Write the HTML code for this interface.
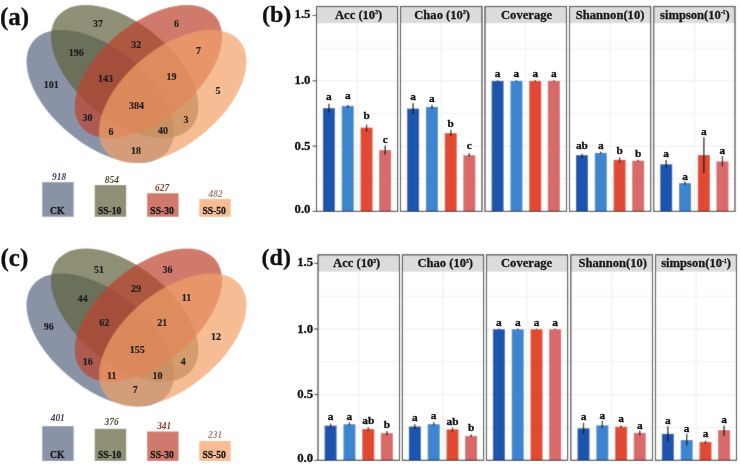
<!DOCTYPE html>
<html><head><meta charset="utf-8"><style>
html,body{margin:0;padding:0;background:#fff;width:740px;height:464px;overflow:hidden}
svg{display:block;will-change:transform}
text{font-family:"Liberation Serif",serif;font-weight:bold;stroke-width:0.3px;paint-order:stroke}
.vl{font-size:10px;text-anchor:middle;fill:#1e1e1e;stroke:#1e1e1e;stroke-width:0.15px}
.ln{font-size:9.4px;font-style:italic;text-anchor:middle;font-weight:bold}
.lt{font-size:9.6px;text-anchor:middle;fill:#1a1a1a;stroke:#1a1a1a}
.yl{font-size:12.8px;text-anchor:end;fill:#111;stroke:#111}
.st{font-size:12.6px;text-anchor:middle;fill:#1a1a1a;stroke:#1a1a1a}
.sup{font-size:5.5px}
.let{font-size:11.3px;text-anchor:middle;fill:#111;stroke:#111}
.pl{font-size:25px;fill:#111;stroke:#111}
</style></head><body>
<svg width="740" height="464" viewBox="0 0 740 464"><defs><filter id="bl" x="0" y="0" width="740" height="464" filterUnits="userSpaceOnUse"><feConvolveMatrix order="3" kernelMatrix="1 2 1 2 20 2 1 2 1" divisor="32" edgeMode="duplicate" preserveAlpha="true"/></filter></defs><g filter="url(#bl)"><rect width="740" height="464" fill="#fff"/>
<ellipse cx="100.21" cy="96.46" rx="86.92" ry="48.09" transform="rotate(39.44 100.21 96.46)" fill="#586580" fill-opacity="0.7"/>
<ellipse cx="124.61" cy="71.58" rx="86.92" ry="48.09" transform="rotate(39.44 124.61 71.58)" fill="#5e5f3a" fill-opacity="0.7"/>
<ellipse cx="148.39" cy="71.58" rx="86.92" ry="48.09" transform="rotate(-39.44 148.39 71.58)" fill="#bc412e" fill-opacity="0.7"/>
<ellipse cx="172.79" cy="96.46" rx="86.92" ry="48.09" transform="rotate(-39.44 172.79 96.46)" fill="#f2a168" fill-opacity="0.7"/>
<rect x="42.2" y="182.1" width="31.5" height="34.70000000000002" fill="#8a93a6"/>
<rect x="94.7" y="185.0" width="31.5" height="31.80000000000001" fill="#8e8f75"/>
<rect x="147.1" y="193.2" width="31.5" height="23.600000000000023" fill="#d07a6d"/>
<rect x="199.2" y="198.9" width="31.5" height="17.900000000000006" fill="#f6bd95"/>
<ellipse cx="100.21" cy="339.96" rx="86.92" ry="48.09" transform="rotate(39.44 100.21 339.96)" fill="#586580" fill-opacity="0.7"/>
<ellipse cx="124.61" cy="315.08" rx="86.92" ry="48.09" transform="rotate(39.44 124.61 315.08)" fill="#5e5f3a" fill-opacity="0.7"/>
<ellipse cx="148.39" cy="315.08" rx="86.92" ry="48.09" transform="rotate(-39.44 148.39 315.08)" fill="#bc412e" fill-opacity="0.7"/>
<ellipse cx="172.79" cy="339.96" rx="86.92" ry="48.09" transform="rotate(-39.44 172.79 339.96)" fill="#f2a168" fill-opacity="0.7"/>
<rect x="42.2" y="426.1" width="31.5" height="34.900000000000006" fill="#8a93a6"/>
<rect x="94.7" y="428.8" width="31.5" height="32.19999999999999" fill="#8e8f75"/>
<rect x="147.1" y="431.5" width="31.5" height="29.5" fill="#d07a6d"/>
<rect x="199.2" y="441.0" width="31.5" height="20.0" fill="#f6bd95"/>
<line x1="312.5" y1="15.500000000000028" x2="316.5" y2="15.500000000000028" stroke="#333" stroke-width="1"/>
<line x1="312.5" y1="80.80000000000001" x2="316.5" y2="80.80000000000001" stroke="#333" stroke-width="1"/>
<line x1="312.5" y1="146.10000000000002" x2="316.5" y2="146.10000000000002" stroke="#333" stroke-width="1"/>
<line x1="312.5" y1="211.4" x2="316.5" y2="211.4" stroke="#333" stroke-width="1"/>
<rect x="316.5" y="23.2" width="81.10000000000002" height="188.20000000000002" fill="#fff"/>
<line x1="316.5" y1="178.75" x2="397.6" y2="178.75" stroke="#f1f1f1" stroke-width="1"/>
<line x1="316.5" y1="113.45000000000002" x2="397.6" y2="113.45000000000002" stroke="#f1f1f1" stroke-width="1"/>
<line x1="316.5" y1="48.150000000000006" x2="397.6" y2="48.150000000000006" stroke="#f1f1f1" stroke-width="1"/>
<line x1="316.5" y1="146.10000000000002" x2="397.6" y2="146.10000000000002" stroke="#eeeeee" stroke-width="1"/>
<line x1="316.5" y1="80.80000000000001" x2="397.6" y2="80.80000000000001" stroke="#eeeeee" stroke-width="1"/>
<line x1="357.05" y1="23.2" x2="357.05" y2="211.4" stroke="#eeeeee" stroke-width="1"/>
<rect x="322.90" y="108.1" width="12.0" height="103.30" fill="#1a55ae"/>
<line x1="328.90" y1="103.8" x2="328.90" y2="112.4" stroke="#111" stroke-width="1.3"/>
<rect x="341.75" y="105.9" width="12.0" height="105.50" fill="#3d86cf"/>
<line x1="347.75" y1="105.0" x2="347.75" y2="108.0" stroke="#111" stroke-width="1.3"/>
<rect x="360.55" y="127.6" width="12.0" height="83.80" fill="#e04a33"/>
<line x1="366.55" y1="124.5" x2="366.55" y2="131.4" stroke="#111" stroke-width="1.3"/>
<rect x="379.15" y="150.0" width="12.0" height="61.40" fill="#d86a6a"/>
<line x1="385.15" y1="145.5" x2="385.15" y2="154.7" stroke="#111" stroke-width="1.3"/>
<rect x="316.5" y="6.5" width="81.10000000000002" height="16.7" fill="#dcdcdc"/>
<rect x="316.5" y="6.5" width="81.10000000000002" height="204.9" fill="none" stroke="#262626" stroke-width="1.1"/>
<rect x="400.5" y="23.2" width="81.5" height="188.20000000000002" fill="#fff"/>
<line x1="400.5" y1="178.75" x2="482.0" y2="178.75" stroke="#f1f1f1" stroke-width="1"/>
<line x1="400.5" y1="113.45000000000002" x2="482.0" y2="113.45000000000002" stroke="#f1f1f1" stroke-width="1"/>
<line x1="400.5" y1="48.150000000000006" x2="482.0" y2="48.150000000000006" stroke="#f1f1f1" stroke-width="1"/>
<line x1="400.5" y1="146.10000000000002" x2="482.0" y2="146.10000000000002" stroke="#eeeeee" stroke-width="1"/>
<line x1="400.5" y1="80.80000000000001" x2="482.0" y2="80.80000000000001" stroke="#eeeeee" stroke-width="1"/>
<line x1="441.25" y1="23.2" x2="441.25" y2="211.4" stroke="#eeeeee" stroke-width="1"/>
<rect x="407.10" y="108.6" width="12.0" height="102.80" fill="#1a55ae"/>
<line x1="413.10" y1="103.0" x2="413.10" y2="114.0" stroke="#111" stroke-width="1.3"/>
<rect x="425.95" y="106.9" width="12.0" height="104.50" fill="#3d86cf"/>
<line x1="431.95" y1="105.0" x2="431.95" y2="109.0" stroke="#111" stroke-width="1.3"/>
<rect x="444.75" y="133.1" width="12.0" height="78.30" fill="#e04a33"/>
<line x1="450.75" y1="130.0" x2="450.75" y2="135.7" stroke="#111" stroke-width="1.3"/>
<rect x="463.35" y="155.2" width="12.0" height="56.20" fill="#d86a6a"/>
<line x1="469.35" y1="153.0" x2="469.35" y2="157.0" stroke="#111" stroke-width="1.3"/>
<rect x="400.5" y="6.5" width="81.5" height="16.7" fill="#dcdcdc"/>
<rect x="400.5" y="6.5" width="81.5" height="204.9" fill="none" stroke="#262626" stroke-width="1.1"/>
<rect x="485.0" y="23.2" width="81.5" height="188.20000000000002" fill="#fff"/>
<line x1="485.0" y1="178.75" x2="566.5" y2="178.75" stroke="#f1f1f1" stroke-width="1"/>
<line x1="485.0" y1="113.45000000000002" x2="566.5" y2="113.45000000000002" stroke="#f1f1f1" stroke-width="1"/>
<line x1="485.0" y1="48.150000000000006" x2="566.5" y2="48.150000000000006" stroke="#f1f1f1" stroke-width="1"/>
<line x1="485.0" y1="146.10000000000002" x2="566.5" y2="146.10000000000002" stroke="#eeeeee" stroke-width="1"/>
<line x1="485.0" y1="80.80000000000001" x2="566.5" y2="80.80000000000001" stroke="#eeeeee" stroke-width="1"/>
<line x1="525.75" y1="23.2" x2="525.75" y2="211.4" stroke="#eeeeee" stroke-width="1"/>
<rect x="491.60" y="80.9" width="12.0" height="130.50" fill="#1a55ae"/>
<line x1="497.60" y1="80.3" x2="497.60" y2="81.6" stroke="#111" stroke-width="1.3"/>
<rect x="510.45" y="80.9" width="12.0" height="130.50" fill="#3d86cf"/>
<line x1="516.45" y1="80.3" x2="516.45" y2="81.6" stroke="#111" stroke-width="1.3"/>
<rect x="529.25" y="80.9" width="12.0" height="130.50" fill="#e04a33"/>
<line x1="535.25" y1="80.3" x2="535.25" y2="81.6" stroke="#111" stroke-width="1.3"/>
<rect x="547.85" y="80.9" width="12.0" height="130.50" fill="#d86a6a"/>
<line x1="553.85" y1="80.3" x2="553.85" y2="81.6" stroke="#111" stroke-width="1.3"/>
<rect x="485.0" y="6.5" width="81.5" height="16.7" fill="#dcdcdc"/>
<rect x="485.0" y="6.5" width="81.5" height="204.9" fill="none" stroke="#262626" stroke-width="1.1"/>
<rect x="569.5" y="23.2" width="81.20000000000005" height="188.20000000000002" fill="#fff"/>
<line x1="569.5" y1="178.75" x2="650.7" y2="178.75" stroke="#f1f1f1" stroke-width="1"/>
<line x1="569.5" y1="113.45000000000002" x2="650.7" y2="113.45000000000002" stroke="#f1f1f1" stroke-width="1"/>
<line x1="569.5" y1="48.150000000000006" x2="650.7" y2="48.150000000000006" stroke="#f1f1f1" stroke-width="1"/>
<line x1="569.5" y1="146.10000000000002" x2="650.7" y2="146.10000000000002" stroke="#eeeeee" stroke-width="1"/>
<line x1="569.5" y1="80.80000000000001" x2="650.7" y2="80.80000000000001" stroke="#eeeeee" stroke-width="1"/>
<line x1="610.1" y1="23.2" x2="610.1" y2="211.4" stroke="#eeeeee" stroke-width="1"/>
<rect x="575.95" y="155.1" width="12.0" height="56.30" fill="#1a55ae"/>
<line x1="581.95" y1="153.8" x2="581.95" y2="157.7" stroke="#111" stroke-width="1.3"/>
<rect x="594.80" y="152.9" width="12.0" height="58.50" fill="#3d86cf"/>
<line x1="600.80" y1="151.7" x2="600.80" y2="153.9" stroke="#111" stroke-width="1.3"/>
<rect x="613.60" y="159.8" width="12.0" height="51.60" fill="#e04a33"/>
<line x1="619.60" y1="157.2" x2="619.60" y2="162.6" stroke="#111" stroke-width="1.3"/>
<rect x="632.20" y="160.7" width="12.0" height="50.70" fill="#d86a6a"/>
<line x1="638.20" y1="159.7" x2="638.20" y2="161.6" stroke="#111" stroke-width="1.3"/>
<rect x="569.5" y="6.5" width="81.20000000000005" height="16.7" fill="#dcdcdc"/>
<rect x="569.5" y="6.5" width="81.20000000000005" height="204.9" fill="none" stroke="#262626" stroke-width="1.1"/>
<rect x="653.7" y="23.2" width="81.29999999999995" height="188.20000000000002" fill="#fff"/>
<line x1="653.7" y1="178.75" x2="735.0" y2="178.75" stroke="#f1f1f1" stroke-width="1"/>
<line x1="653.7" y1="113.45000000000002" x2="735.0" y2="113.45000000000002" stroke="#f1f1f1" stroke-width="1"/>
<line x1="653.7" y1="48.150000000000006" x2="735.0" y2="48.150000000000006" stroke="#f1f1f1" stroke-width="1"/>
<line x1="653.7" y1="146.10000000000002" x2="735.0" y2="146.10000000000002" stroke="#eeeeee" stroke-width="1"/>
<line x1="653.7" y1="80.80000000000001" x2="735.0" y2="80.80000000000001" stroke="#eeeeee" stroke-width="1"/>
<line x1="694.35" y1="23.2" x2="694.35" y2="211.4" stroke="#eeeeee" stroke-width="1"/>
<rect x="660.20" y="164.3" width="12.0" height="47.10" fill="#1a55ae"/>
<line x1="666.20" y1="160.0" x2="666.20" y2="167.6" stroke="#111" stroke-width="1.3"/>
<rect x="679.05" y="183.1" width="12.0" height="28.30" fill="#3d86cf"/>
<line x1="685.05" y1="181.4" x2="685.05" y2="184.7" stroke="#111" stroke-width="1.3"/>
<rect x="697.85" y="155.0" width="12.0" height="56.40" fill="#e04a33"/>
<line x1="703.85" y1="137.2" x2="703.85" y2="173.0" stroke="#111" stroke-width="1.3"/>
<rect x="716.45" y="161.4" width="12.0" height="50.00" fill="#d86a6a"/>
<line x1="722.45" y1="156.0" x2="722.45" y2="166.3" stroke="#111" stroke-width="1.3"/>
<rect x="653.7" y="6.5" width="81.29999999999995" height="16.7" fill="#dcdcdc"/>
<rect x="653.7" y="6.5" width="81.29999999999995" height="204.9" fill="none" stroke="#262626" stroke-width="1.1"/>
<line x1="314.0" y1="263.35" x2="318.0" y2="263.35" stroke="#333" stroke-width="1"/>
<line x1="314.0" y1="329.0" x2="318.0" y2="329.0" stroke="#333" stroke-width="1"/>
<line x1="314.0" y1="394.65" x2="318.0" y2="394.65" stroke="#333" stroke-width="1"/>
<line x1="314.0" y1="460.3" x2="318.0" y2="460.3" stroke="#333" stroke-width="1"/>
<rect x="318.0" y="271.7" width="81.5" height="188.60000000000002" fill="#fff"/>
<line x1="318.0" y1="427.475" x2="399.5" y2="427.475" stroke="#f1f1f1" stroke-width="1"/>
<line x1="318.0" y1="361.825" x2="399.5" y2="361.825" stroke="#f1f1f1" stroke-width="1"/>
<line x1="318.0" y1="296.175" x2="399.5" y2="296.175" stroke="#f1f1f1" stroke-width="1"/>
<line x1="318.0" y1="394.65" x2="399.5" y2="394.65" stroke="#eeeeee" stroke-width="1"/>
<line x1="318.0" y1="329.0" x2="399.5" y2="329.0" stroke="#eeeeee" stroke-width="1"/>
<line x1="358.75" y1="271.7" x2="358.75" y2="460.3" stroke="#eeeeee" stroke-width="1"/>
<rect x="324.60" y="425.6" width="12.0" height="34.70" fill="#1a55ae"/>
<line x1="330.60" y1="423.5" x2="330.60" y2="427.6" stroke="#111" stroke-width="1.3"/>
<rect x="343.45" y="424.2" width="12.0" height="36.10" fill="#3d86cf"/>
<line x1="349.45" y1="422.0" x2="349.45" y2="425.5" stroke="#111" stroke-width="1.3"/>
<rect x="362.25" y="429.0" width="12.0" height="31.30" fill="#e04a33"/>
<line x1="368.25" y1="427.6" x2="368.25" y2="430.4" stroke="#111" stroke-width="1.3"/>
<rect x="380.85" y="433.1" width="12.0" height="27.20" fill="#d86a6a"/>
<line x1="386.85" y1="431.0" x2="386.85" y2="435.2" stroke="#111" stroke-width="1.3"/>
<rect x="318.0" y="254.8" width="81.5" height="16.899999999999977" fill="#dcdcdc"/>
<rect x="318.0" y="254.8" width="81.5" height="205.5" fill="none" stroke="#262626" stroke-width="1.1"/>
<rect x="402.4" y="271.7" width="81.20000000000005" height="188.60000000000002" fill="#fff"/>
<line x1="402.4" y1="427.475" x2="483.6" y2="427.475" stroke="#f1f1f1" stroke-width="1"/>
<line x1="402.4" y1="361.825" x2="483.6" y2="361.825" stroke="#f1f1f1" stroke-width="1"/>
<line x1="402.4" y1="296.175" x2="483.6" y2="296.175" stroke="#f1f1f1" stroke-width="1"/>
<line x1="402.4" y1="394.65" x2="483.6" y2="394.65" stroke="#eeeeee" stroke-width="1"/>
<line x1="402.4" y1="329.0" x2="483.6" y2="329.0" stroke="#eeeeee" stroke-width="1"/>
<line x1="443.0" y1="271.7" x2="443.0" y2="460.3" stroke="#eeeeee" stroke-width="1"/>
<rect x="408.85" y="426.5" width="12.0" height="33.80" fill="#1a55ae"/>
<line x1="414.85" y1="424.2" x2="414.85" y2="429.0" stroke="#111" stroke-width="1.3"/>
<rect x="427.70" y="424.2" width="12.0" height="36.10" fill="#3d86cf"/>
<line x1="433.70" y1="422.1" x2="433.70" y2="425.5" stroke="#111" stroke-width="1.3"/>
<rect x="446.50" y="429.4" width="12.0" height="30.90" fill="#e04a33"/>
<line x1="452.50" y1="427.6" x2="452.50" y2="431.5" stroke="#111" stroke-width="1.3"/>
<rect x="465.10" y="435.9" width="12.0" height="24.40" fill="#d86a6a"/>
<line x1="471.10" y1="434.5" x2="471.10" y2="437.0" stroke="#111" stroke-width="1.3"/>
<rect x="402.4" y="254.8" width="81.20000000000005" height="16.899999999999977" fill="#dcdcdc"/>
<rect x="402.4" y="254.8" width="81.20000000000005" height="205.5" fill="none" stroke="#262626" stroke-width="1.1"/>
<rect x="486.5" y="271.7" width="81.10000000000002" height="188.60000000000002" fill="#fff"/>
<line x1="486.5" y1="427.475" x2="567.6" y2="427.475" stroke="#f1f1f1" stroke-width="1"/>
<line x1="486.5" y1="361.825" x2="567.6" y2="361.825" stroke="#f1f1f1" stroke-width="1"/>
<line x1="486.5" y1="296.175" x2="567.6" y2="296.175" stroke="#f1f1f1" stroke-width="1"/>
<line x1="486.5" y1="394.65" x2="567.6" y2="394.65" stroke="#eeeeee" stroke-width="1"/>
<line x1="486.5" y1="329.0" x2="567.6" y2="329.0" stroke="#eeeeee" stroke-width="1"/>
<line x1="527.05" y1="271.7" x2="527.05" y2="460.3" stroke="#eeeeee" stroke-width="1"/>
<rect x="492.90" y="329.3" width="12.0" height="131.00" fill="#1a55ae"/>
<line x1="498.90" y1="328.7" x2="498.90" y2="329.9" stroke="#111" stroke-width="1.3"/>
<rect x="511.75" y="329.3" width="12.0" height="131.00" fill="#3d86cf"/>
<line x1="517.75" y1="328.7" x2="517.75" y2="329.9" stroke="#111" stroke-width="1.3"/>
<rect x="530.55" y="329.3" width="12.0" height="131.00" fill="#e04a33"/>
<line x1="536.55" y1="328.7" x2="536.55" y2="329.9" stroke="#111" stroke-width="1.3"/>
<rect x="549.15" y="329.3" width="12.0" height="131.00" fill="#d86a6a"/>
<line x1="555.15" y1="328.7" x2="555.15" y2="329.9" stroke="#111" stroke-width="1.3"/>
<rect x="486.5" y="254.8" width="81.10000000000002" height="16.899999999999977" fill="#dcdcdc"/>
<rect x="486.5" y="254.8" width="81.10000000000002" height="205.5" fill="none" stroke="#262626" stroke-width="1.1"/>
<rect x="570.8" y="271.7" width="81.70000000000005" height="188.60000000000002" fill="#fff"/>
<line x1="570.8" y1="427.475" x2="652.5" y2="427.475" stroke="#f1f1f1" stroke-width="1"/>
<line x1="570.8" y1="361.825" x2="652.5" y2="361.825" stroke="#f1f1f1" stroke-width="1"/>
<line x1="570.8" y1="296.175" x2="652.5" y2="296.175" stroke="#f1f1f1" stroke-width="1"/>
<line x1="570.8" y1="394.65" x2="652.5" y2="394.65" stroke="#eeeeee" stroke-width="1"/>
<line x1="570.8" y1="329.0" x2="652.5" y2="329.0" stroke="#eeeeee" stroke-width="1"/>
<line x1="611.65" y1="271.7" x2="611.65" y2="460.3" stroke="#eeeeee" stroke-width="1"/>
<rect x="577.50" y="428.3" width="12.0" height="32.00" fill="#1a55ae"/>
<line x1="583.50" y1="422.8" x2="583.50" y2="433.8" stroke="#111" stroke-width="1.3"/>
<rect x="596.35" y="425.3" width="12.0" height="35.00" fill="#3d86cf"/>
<line x1="602.35" y1="420.7" x2="602.35" y2="428.3" stroke="#111" stroke-width="1.3"/>
<rect x="615.15" y="426.7" width="12.0" height="33.60" fill="#e04a33"/>
<line x1="621.15" y1="425.5" x2="621.15" y2="427.6" stroke="#111" stroke-width="1.3"/>
<rect x="633.75" y="432.9" width="12.0" height="27.40" fill="#d86a6a"/>
<line x1="639.75" y1="430.4" x2="639.75" y2="435.2" stroke="#111" stroke-width="1.3"/>
<rect x="570.8" y="254.8" width="81.70000000000005" height="16.899999999999977" fill="#dcdcdc"/>
<rect x="570.8" y="254.8" width="81.70000000000005" height="205.5" fill="none" stroke="#262626" stroke-width="1.1"/>
<rect x="655.5" y="271.7" width="81.0" height="188.60000000000002" fill="#fff"/>
<line x1="655.5" y1="427.475" x2="736.5" y2="427.475" stroke="#f1f1f1" stroke-width="1"/>
<line x1="655.5" y1="361.825" x2="736.5" y2="361.825" stroke="#f1f1f1" stroke-width="1"/>
<line x1="655.5" y1="296.175" x2="736.5" y2="296.175" stroke="#f1f1f1" stroke-width="1"/>
<line x1="655.5" y1="394.65" x2="736.5" y2="394.65" stroke="#eeeeee" stroke-width="1"/>
<line x1="655.5" y1="329.0" x2="736.5" y2="329.0" stroke="#eeeeee" stroke-width="1"/>
<line x1="696.0" y1="271.7" x2="696.0" y2="460.3" stroke="#eeeeee" stroke-width="1"/>
<rect x="661.85" y="433.8" width="12.0" height="26.50" fill="#1a55ae"/>
<line x1="667.85" y1="426.0" x2="667.85" y2="441.4" stroke="#111" stroke-width="1.3"/>
<rect x="680.70" y="440.0" width="12.0" height="20.30" fill="#3d86cf"/>
<line x1="686.70" y1="433.8" x2="686.70" y2="445.6" stroke="#111" stroke-width="1.3"/>
<rect x="699.50" y="441.9" width="12.0" height="18.40" fill="#e04a33"/>
<line x1="705.50" y1="440.7" x2="705.50" y2="443.5" stroke="#111" stroke-width="1.3"/>
<rect x="718.10" y="430.1" width="12.0" height="30.20" fill="#d86a6a"/>
<line x1="724.10" y1="425.6" x2="724.10" y2="435.9" stroke="#111" stroke-width="1.3"/>
<rect x="655.5" y="254.8" width="81.0" height="16.899999999999977" fill="#dcdcdc"/>
<rect x="655.5" y="254.8" width="81.0" height="205.5" fill="none" stroke="#262626" stroke-width="1.1"/>
</g>
<text x="98.1" y="26.9" class="vl">37</text>
<text x="176.6" y="27.3" class="vl">6</text>
<text x="76.2" y="56.0" class="vl">196</text>
<text x="136.3" y="48.4" class="vl">32</text>
<text x="198.6" y="54.2" class="vl">7</text>
<text x="51.2" y="88.0" class="vl">101</text>
<text x="105.4" y="82.3" class="vl">143</text>
<text x="171.5" y="80.0" class="vl">19</text>
<text x="217.9" y="94.4" class="vl">5</text>
<text x="136.5" y="108.5" class="vl">384</text>
<text x="87.5" y="121.4" class="vl">30</text>
<text x="185.9" y="122.8" class="vl">3</text>
<text x="111" y="135.4" class="vl">6</text>
<text x="163" y="133.8" class="vl">40</text>
<text x="136" y="153.5" class="vl">18</text>
<text x="59.150000000000006" y="179.7" class="ln" fill="#3a4460">918</text>
<text x="57.2" y="214.0" class="lt">CK</text>
<text x="111.85000000000001" y="182.6" class="ln" fill="#4a4d35">854</text>
<text x="109.7" y="214.0" class="lt">SS-10</text>
<text x="162.04999999999998" y="190.9" class="ln" fill="#8a3a2e">627</text>
<text x="162.1" y="214.0" class="lt">SS-30</text>
<text x="215.54999999999998" y="196.9" class="ln" fill="#a8827a">482</text>
<text x="214.2" y="214.0" class="lt">SS-50</text>
<text x="0" y="24.9" class="pl">(a)</text>
<text x="98.9" y="273.3" class="vl">51</text>
<text x="167.5" y="273.0" class="vl">36</text>
<text x="82.7" y="301.5" class="vl">44</text>
<text x="136" y="292.0" class="vl">29</text>
<text x="186.5" y="301.4" class="vl">11</text>
<text x="48.7" y="329.6" class="vl">96</text>
<text x="104.2" y="326.2" class="vl">62</text>
<text x="162.2" y="326.2" class="vl">21</text>
<text x="216" y="340.4" class="vl">12</text>
<text x="137.2" y="352.7" class="vl">155</text>
<text x="87.8" y="364.8" class="vl">16</text>
<text x="183.3" y="365.0" class="vl">4</text>
<text x="111.7" y="379.2" class="vl">11</text>
<text x="157.6" y="379.2" class="vl">10</text>
<text x="135.3" y="393.0" class="vl">7</text>
<text x="57.75" y="421.1" class="ln" fill="#3a4460">401</text>
<text x="57.2" y="458.2" class="lt">CK</text>
<text x="111.60000000000001" y="424.5" class="ln" fill="#4a4d35">376</text>
<text x="109.7" y="458.2" class="lt">SS-10</text>
<text x="164.2" y="429.0" class="ln" fill="#8a3a2e">341</text>
<text x="162.1" y="458.2" class="lt">SS-30</text>
<text x="215.14999999999998" y="437.9" class="ln" fill="#a8827a">231</text>
<text x="214.2" y="458.2" class="lt">SS-50</text>
<text x="0.5" y="266" class="pl">(c)</text>
<text x="310.5" y="18.3" class="yl">1.5</text>
<text x="310.5" y="84.4" class="yl">1.0</text>
<text x="310.5" y="149.6" class="yl">0.5</text>
<text x="310.5" y="213.0" class="yl">0.0</text>
<text x="328.90" y="99.6" class="let">a</text>
<text x="347.75" y="99.0" class="let">a</text>
<text x="366.55" y="119.3" class="let">b</text>
<text x="385.15" y="142.6" class="let">c</text>
<text x="358.55" y="18.8" class="st">Acc (10<tspan class="sup" dy="-4.5">3</tspan><tspan dy="4.5">)</tspan></text>
<text x="413.10" y="100.3" class="let">a</text>
<text x="431.95" y="102.4" class="let">a</text>
<text x="450.75" y="127.0" class="let">b</text>
<text x="469.35" y="148.6" class="let">c</text>
<text x="442.05" y="18.8" class="st">Chao (10<tspan class="sup" dy="-4.5">3</tspan><tspan dy="4.5">)</tspan></text>
<text x="497.60" y="77.4" class="let">a</text>
<text x="516.45" y="77.4" class="let">a</text>
<text x="535.25" y="77.4" class="let">a</text>
<text x="553.85" y="77.4" class="let">a</text>
<text x="526.55" y="18.8" class="st">Coverage</text>
<text x="581.95" y="149.0" class="let">ab</text>
<text x="600.80" y="149.0" class="let">a</text>
<text x="619.60" y="154.2" class="let">b</text>
<text x="638.20" y="156.8" class="let">b</text>
<text x="610.1" y="18.8" class="st">Shannon(10)</text>
<text x="666.20" y="156.6" class="let">a</text>
<text x="685.05" y="179.8" class="let">a</text>
<text x="703.85" y="134.8" class="let">a</text>
<text x="722.45" y="154.2" class="let">a</text>
<text x="694.85" y="18.8" class="st">simpson(10<tspan class="sup" dy="-4.5">-1</tspan><tspan dy="4.5">)</tspan></text>
<text x="262" y="22.2" class="pl" style="font-size:24px">(b)</text>
<text x="313.2" y="266.2" class="yl">1.5</text>
<text x="313.2" y="332.6" class="yl">1.0</text>
<text x="313.2" y="398.1" class="yl">0.5</text>
<text x="313.2" y="461.9" class="yl">0.0</text>
<text x="330.60" y="420.4" class="let">a</text>
<text x="349.45" y="420.0" class="let">a</text>
<text x="368.25" y="423.5" class="let">ab</text>
<text x="386.85" y="428.3" class="let">b</text>
<text x="356.65" y="267.1" class="st">Acc (10<tspan class="sup" dy="-4.5">3</tspan><tspan dy="4.5">)</tspan></text>
<text x="414.85" y="421.1" class="let">a</text>
<text x="433.70" y="419.3" class="let">a</text>
<text x="452.50" y="424.6" class="let">ab</text>
<text x="471.10" y="431.0" class="let">b</text>
<text x="445.25" y="267.1" class="st">Chao (10<tspan class="sup" dy="-4.5">3</tspan><tspan dy="4.5">)</tspan></text>
<text x="498.90" y="326.2" class="let">a</text>
<text x="517.75" y="326.2" class="let">a</text>
<text x="536.55" y="326.2" class="let">a</text>
<text x="555.15" y="326.2" class="let">a</text>
<text x="526.55" y="267.1" class="st">Coverage</text>
<text x="583.50" y="420.0" class="let">a</text>
<text x="602.35" y="418.6" class="let">a</text>
<text x="621.15" y="422.1" class="let">a</text>
<text x="639.75" y="428.7" class="let">a</text>
<text x="612.75" y="267.1" class="st">Shannon(10)</text>
<text x="667.85" y="423.5" class="let">a</text>
<text x="686.70" y="432.0" class="let">a</text>
<text x="705.50" y="437.3" class="let">a</text>
<text x="724.10" y="422.8" class="let">a</text>
<text x="696.0" y="267.1" class="st">simpson(10<tspan class="sup" dy="-4.5">-1</tspan><tspan dy="4.5">)</tspan></text>
<text x="261.6" y="265.1" class="pl" style="font-size:24px">(d)</text>
</svg>
</body></html>
